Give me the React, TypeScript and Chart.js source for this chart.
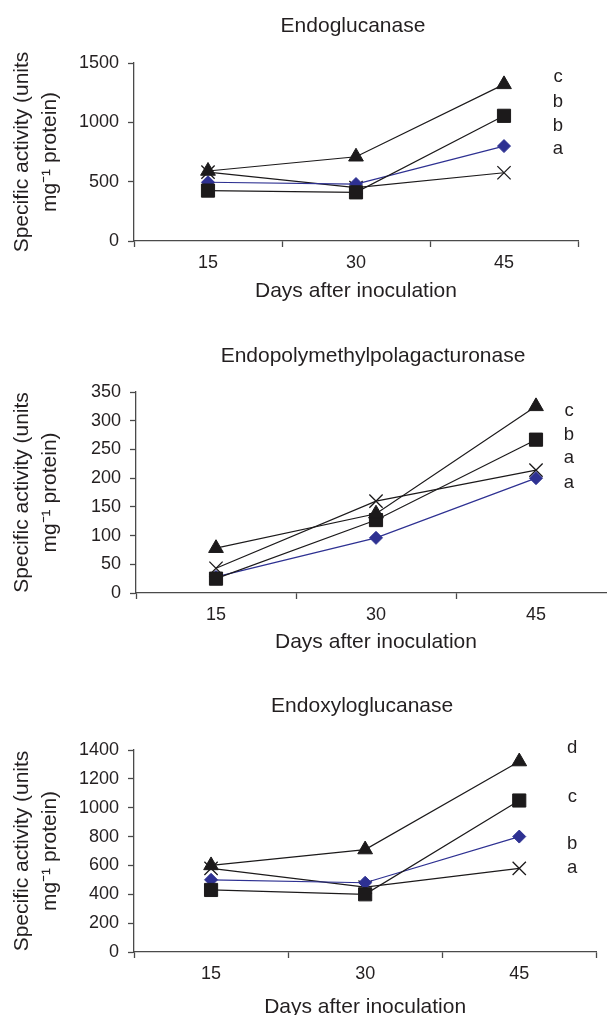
import React, { useEffect, useRef } from 'react';
import { Chart, registerables } from 'chart.js';

Chart.register(...registerables);

// ---------- data ----------
const days = ['15', '30', '45'];

// Endoglucanase
const endoTriangle = [590, 710, 1320];
const endoSquare = [425, 410, 1055];
const endoDiamond = [495, 480, 800];
const endoCross = [580, 450, 575];
const endoTicks = { max: 1500, step: 500 };
const endoLetters = ['c', 'b', 'b', 'a'];
const endoLetterY = [1340, 1130, 925, 730];

// Endopolymethylpolagacturonase
const pmgTriangle = [78, 138, 325];
const pmgSquare = [25, 127, 267];
const pmgDiamond = [28, 96, 200];
const pmgCross = [43, 160, 214];
const pmgTicks = { max: 350, step: 50 };
const pmgLetters = ['c', 'b', 'a', 'a'];
const pmgLetterY = [308, 267, 226, 182];

// Endoxyloglucanase
const xylTriangle = [600, 710, 1320];
const xylSquare = [430, 400, 1050];
const xylDiamond = [500, 480, 800];
const xylCross = [580, 450, 580];
const xylTicks = { max: 1400, step: 200 };
const xylLetters = ['d', 'c', 'b', 'a'];
const xylLetterY = [1377, 1042, 715, 547];

const yTitle = ['Specific activity (units', 'mg\u207B\u00B9 protein)'];
const xTitle = 'Days after inoculation';

// ---------- styles ----------
const FONT = '"Liberation Sans", Arial, Helvetica, sans-serif';
const TEXT = '#231f20';
const BLACK = '#1c1a1b';
const BLUE = '#2e3192';
const AXIS = '#4a4a4a';

type Panel = {
  title: string;
  triangle: number[];
  square: number[];
  diamond: number[];
  cross: number[];
  ticks: { max: number; step: number };
  letters: string[];
  letterY: number[];
  top: number;
  w: number;
  h: number;
  pad: { top: number; right: number };
  yWidth: number;
  xHeight: number;
  xTitlePad: number;
  titleY: number;
  letterDx: number;
};

const panels: Panel[] = [
  {
    title: 'Endoglucanase',
    triangle: endoTriangle, square: endoSquare, diamond: endoDiamond, cross: endoCross,
    ticks: endoTicks, letters: endoLetters, letterY: endoLetterY,
    top: 0, w: 607, h: 310, pad: { top: 63, right: 29 }, yWidth: 134, xHeight: 69,
    xTitlePad: 6, titleY: 26, letterDx: 54,
  },
  {
    title: 'Endopolymethylpolagacturonase',
    triangle: pmgTriangle, square: pmgSquare, diamond: pmgDiamond, cross: pmgCross,
    ticks: pmgTicks, letters: pmgLetters, letterY: pmgLetterY,
    top: 330, w: 630, h: 330, pad: { top: 62, right: 14 }, yWidth: 136, xHeight: 67,
    xTitlePad: 5, titleY: 26, letterDx: 33,
  },
  {
    title: 'Endoxyloglucanase',
    triangle: xylTriangle, square: xylSquare, diamond: xylDiamond, cross: xylCross,
    ticks: xylTicks, letters: xylLetters, letterY: xylLetterY,
    top: 660, w: 607, h: 380, pad: { top: 90, right: 5 }, yWidth: 134, xHeight: 88,
    xTitlePad: 20, titleY: 46, letterDx: 53,
  },
];

function ChartPanel({ p }: { p: Panel }) {
  const ref = useRef<HTMLCanvasElement>(null);

  useEffect(() => {
    const canvas = ref.current;
    if (!canvas) return;

    const annotate = {
      id: 'annotate',
      afterDatasetsDraw(chart: any) {
        const { ctx, chartArea, scales } = chart;
        ctx.save();
        ctx.fillStyle = TEXT;
        ctx.textAlign = 'center';
        ctx.textBaseline = 'middle';
        ctx.font = `21px ${FONT}`;
        ctx.fillText(p.title, (chartArea.left + chartArea.right) / 2 - 3, p.titleY);
        ctx.font = `18.5px ${FONT}`;
        ctx.textBaseline = 'alphabetic';
        const lx = scales.x.getPixelForValue(2) + p.letterDx;
        p.letters.forEach((l, i) => {
          ctx.fillText(l, lx, scales.y.getPixelForValue(p.letterY[i]));
        });
        ctx.restore();
      },
    };

    const line = (data: number[], color: string, style: string, radius: number, bw: number) => ({
      data,
      borderColor: color,
      backgroundColor: color,
      borderWidth: 1.2,
      pointStyle: style,
      pointRadius: radius,
      pointHoverRadius: radius,
      pointBackgroundColor: color,
      pointBorderColor: color,
      pointBorderWidth: bw,
      tension: 0,
    });

    const chart = new Chart(canvas, {
      type: 'line',
      data: {
        labels: days,
        datasets: [
          line(p.triangle, BLACK, 'triangle', 8.5, 1),
          line(p.square, BLACK, 'rect', 9.3, 1),
          line(p.diamond, BLUE, 'rectRot', 6.5, 1),
          line(p.cross, BLACK, 'crossRot', 9.4, 1.3),
        ] as any,
      },
      options: {
        animation: false,
        responsive: false,
        devicePixelRatio: 1,
        layout: { padding: { top: p.pad.top, right: p.pad.right, left: 0, bottom: 0 } },
        plugins: {
          legend: { display: false },
          tooltip: { enabled: false },
          title: { display: false },
        },
        scales: {
          x: {
            type: 'category',
            offset: true,
            grid: {
              offset: true,
              drawOnChartArea: false,
              drawTicks: true,
              tickLength: 6,
              tickColor: AXIS,
              tickWidth: 1.3,
            },
            border: { display: true, color: AXIS, width: 1.3 },
            ticks: {
              color: TEXT,
              font: { family: FONT, size: 18 },
              padding: 5,
              autoSkip: false,
              maxRotation: 0,
            },
            title: {
              display: true,
              text: xTitle,
              color: TEXT,
              font: { family: FONT, size: 21, lineHeight: 1.2 },
              padding: { top: 0, bottom: p.xTitlePad },
            },
            afterFit: (s: any) => {
              s.height = p.xHeight;
            },
          },
          y: {
            type: 'linear',
            min: 0,
            max: p.ticks.max,
            grid: {
              drawOnChartArea: false,
              drawTicks: true,
              tickLength: 6,
              tickColor: AXIS,
              tickWidth: 1.3,
            },
            border: { display: true, color: AXIS, width: 1.3 },
            ticks: {
              stepSize: p.ticks.step,
              color: TEXT,
              font: { family: FONT, size: 18 },
              padding: 9,
              callback: (v: any) => String(v),
            },
            title: {
              display: true,
              text: yTitle,
              color: TEXT,
              font: { family: FONT, size: 21, lineHeight: 1.3 },
              padding: { top: 9, bottom: 0 },
            },
            afterFit: (s: any) => {
              s.width = p.yWidth;
            },
          },
        },
      },
      plugins: [annotate],
    });

    return () => chart.destroy();
  }, [p]);

  return (
    <canvas
      ref={ref}
      width={p.w}
      height={p.h}
      style={{ position: 'absolute', left: 0, top: p.top, width: p.w, height: p.h, display: 'block' }}
    />
  );
}

export default function App() {
  return (
    <div
      style={{
        position: 'absolute',
        left: 0,
        top: 0,
        width: 607,
        height: 1015,
        overflow: 'hidden',
        background: '#ffffff',
      }}
    >
      {panels.map((p) => (
        <ChartPanel key={p.title} p={p} />
      ))}
    </div>
  );
}
